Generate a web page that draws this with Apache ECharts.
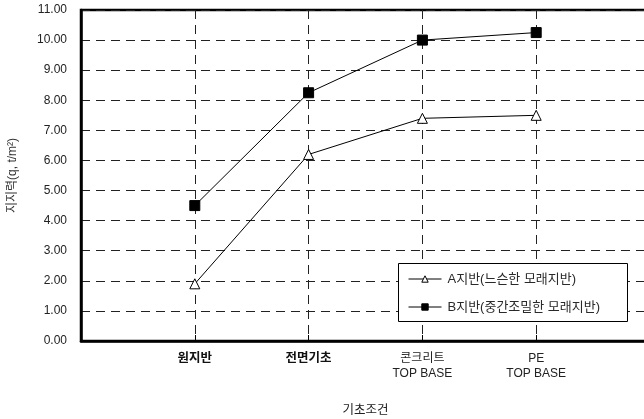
<!DOCTYPE html>
<html>
<head>
<meta charset="utf-8">
<script src="https://cdn.jsdelivr.net/npm/echarts@6/dist/echarts.min.js"></script>
<style>
html,body{margin:0;padding:0;background:#fff;}
#chart{width:644px;height:419px;}
</style>
</head>
<body>
<div id="chart"></div>
<script>
// foundation conditions along the x axis (line 1 / line 2 of each label)
const categories = ['원지반', '전면기초', '콘크리트\nTOP BASE', 'PE\nTOP BASE'];
// bearing capacity q (t/m²)
const seriesNames = ['A지반(느슨한 모래지반)', 'B지반(중간조밀한 모래지반)'];
const valuesA = [1.9, 6.2, 7.4, 7.5];
const valuesB = [4.5, 8.25, 10.0, 10.25];
const yTicks = [0, 1, 2, 3, 4, 5, 6, 7, 8, 9, 10, 11];

const FONT = '"Liberation Sans", "Noto Sans CJK KR", sans-serif';
const GRID_DASH = { color: '#222', type: [9, 6], width: 1 };

function pts(vals) {
  return vals.map((v, i) => [i + 1, v]);
}

const chart = echarts.init(document.getElementById('chart'), null, { renderer: 'canvas' });
chart.setOption({
  animation: false,
  backgroundColor: '#fff',
  grid: {
    left: 81, top: 10, bottom: 78, right: -6,
    outerBoundsMode: 'none',
    containLabel: false,
    show: true, borderColor: '#000', borderWidth: 2.5, backgroundColor: 'transparent'
  },
  // framed box behind the legend entries
  graphic: [{
    type: 'rect',
    z: 20,
    shape: { x: 398.5, y: 263.5, width: 229, height: 58 },
    style: { fill: '#fff', stroke: '#000', lineWidth: 1 }
  }],
  legend: {
    orient: 'vertical',
    left: 398, top: 263,
    z: 30,
    padding: [9, 10, 6, 10],
    itemGap: 14,
    itemWidth: 33, itemHeight: 8,
    lineStyle: { width: 1, color: '#000' },
    itemStyle: { borderWidth: 1, borderColor: '#000' },
    textStyle: { fontFamily: FONT, fontSize: 13, color: '#2a2a2a', lineHeight: 14, padding: [0, 0, 0, 1] },
    data: seriesNames
  },
  xAxis: {
    type: 'value',
    min: 0, max: 5, interval: 1,
    name: '기초조건',
    nameLocation: 'middle',
    nameGap: 63,
    nameTextStyle: { fontFamily: FONT, fontSize: 12.5, color: '#222' },
    axisLine: { show: true, lineStyle: { color: '#000', width: 2.5 } },
    axisTick: { show: true, inside: true, length: 6, lineStyle: { color: '#000' } },
    splitLine: { show: true, lineStyle: GRID_DASH },
    axisLabel: {
      margin: 10,
      fontFamily: FONT, fontSize: 12, color: '#222', lineHeight: 15,
      formatter: function (v) {
        const c = categories[v - 1];
        if (!c) return '';
        return c.indexOf('\n') < 0 ? '{b|' + c + '}' : c;
      },
      rich: { b: { fontFamily: FONT, fontSize: 12.5, fontWeight: 'bold', color: '#111' } }
    }
  },
  yAxis: {
    type: 'value',
    min: yTicks[0], max: yTicks[yTicks.length - 1], interval: 1,
    name: '지지력(q, t/m²)',
    nameLocation: 'middle',
    nameGap: 62,
    nameRotate: 90,
    nameTextStyle: { fontFamily: FONT, fontSize: 12, color: '#333' },
    axisLine: { show: true, lineStyle: { color: '#000', width: 2.5 } },
    axisTick: { show: false },
    splitLine: { show: true, lineStyle: GRID_DASH },
    axisLabel: {
      margin: 14,
      fontFamily: FONT, fontSize: 12, color: '#222',
      formatter: v => v.toFixed(2)
    }
  },
  series: [
    {
      name: seriesNames[0],
      type: 'line',
      data: pts(valuesA),
      symbol: 'triangle',
      symbolSize: 10,
      lineStyle: { color: '#000', width: 1 },
      itemStyle: { color: '#fff', borderColor: '#000', borderWidth: 1 },
      z: 3
    },
    {
      name: seriesNames[1],
      type: 'line',
      data: pts(valuesB),
      symbol: 'rect',
      symbolSize: 10,
      lineStyle: { color: '#000', width: 1 },
      itemStyle: { color: '#000', borderColor: '#000', borderWidth: 1 },
      z: 3
    }
  ]
});
</script>
</body>
</html>
